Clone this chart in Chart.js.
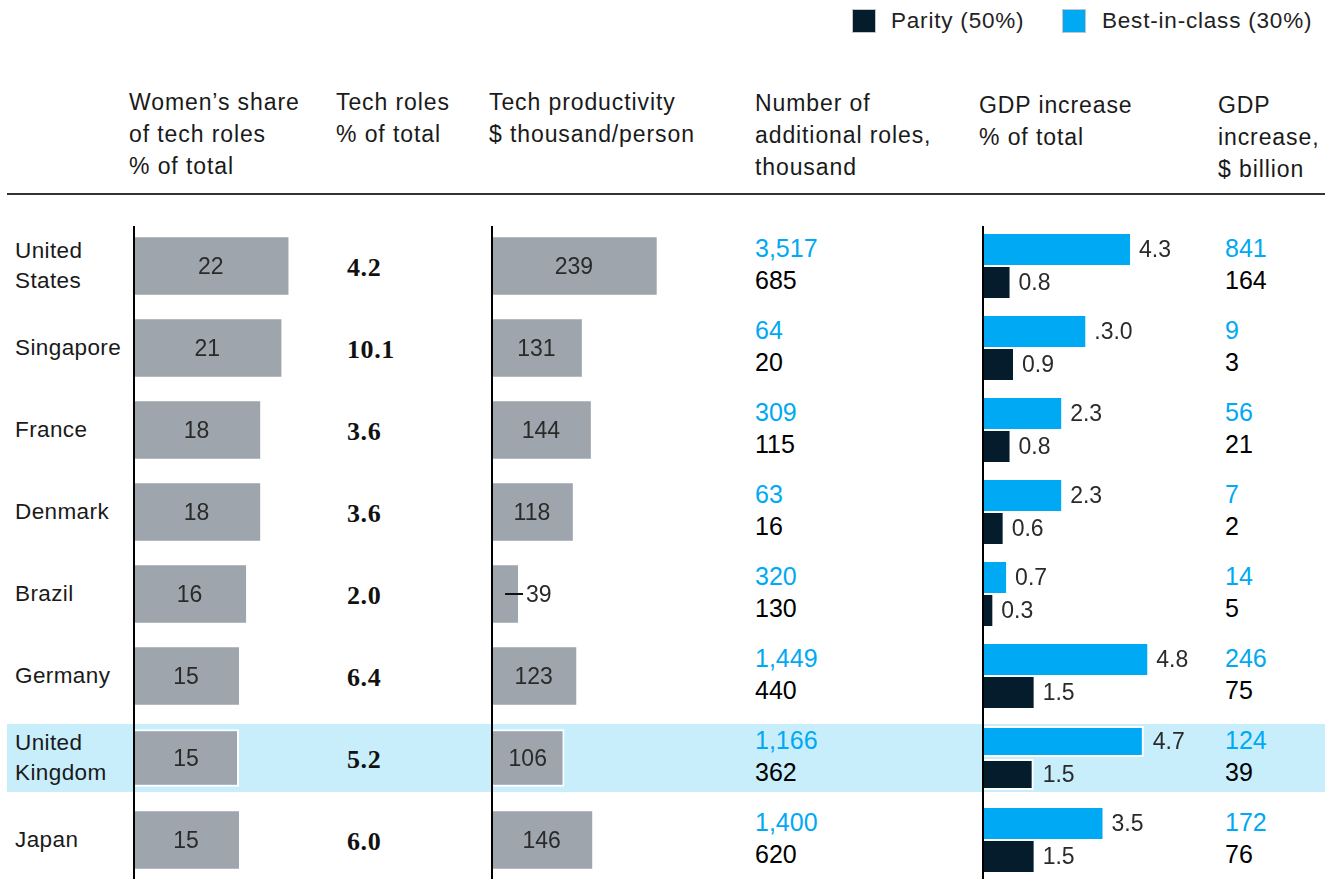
<!DOCTYPE html>
<html>
<head>
<meta charset="utf-8">
<script src="https://cdn.jsdelivr.net/npm/chart.js@4.4.1/dist/chart.umd.min.js"></script>
<style>
  html, body { margin: 0; padding: 0; background: #fff; }
  body { width: 1325px; height: 879px; overflow: hidden; position: relative;
         font-family: "Liberation Sans", Arial, sans-serif; color: #1a1a1a; }
  .abs { position: absolute; }
  .hdr { position: absolute; font-size: 23px; line-height: 32px; letter-spacing: 0.9px; white-space: nowrap; color: #1a1a1a; }
  .legend-box { position: absolute; width: 22px; height: 22px; border: 1px solid #c4c4c4; top: 9px; }
  .legend-txt { position: absolute; top: 6px; font-size: 22.5px; line-height: 30px; letter-spacing: 0.8px; color: #222; }
  .row { position: absolute; height: 82px; display: flex; align-items: center; white-space: nowrap; }
  .country { font-size: 22.5px; line-height: 30px; letter-spacing: 0.4px; }
  .roles { font-family: "Liberation Serif", serif; font-weight: bold; font-size: 26px; letter-spacing: 0.6px; color: #111; margin-top: 4px; }
  .pair { font-size: 25px; line-height: 32px; margin-top: -4px; }
  .pair .best { color: #00a9f4; }
  .pair .parity { color: #000; }
  canvas { position: absolute; }
</style>
</head>
<body>

<div class="legend-box" style="left:852px; background:#051c2c;"></div>
<div class="legend-txt" style="left:891px;">Parity (50%)</div>
<div class="legend-box" style="left:1062px; background:#00a9f4;"></div>
<div class="legend-txt" style="left:1102px;">Best-in-class (30%)</div>

<div class="hdr" style="left:129px; top:86px;">Women’s share<br>of tech roles<br>% of total</div>
<div class="hdr" style="left:336px; top:86px;">Tech roles<br>% of total</div>
<div class="hdr" style="left:489px; top:86px;">Tech productivity<br>$ thousand/person</div>
<div class="hdr" style="left:755px; top:87px;">Number of<br>additional roles,<br>thousand</div>
<div class="hdr" style="left:979px; top:89px;">GDP increase<br>% of total</div>
<div class="hdr" style="left:1218px; top:89px;">GDP<br>increase,<br>$ billion</div>

<div class="abs" style="left:7px; top:193px; width:1318px; height:2px; background:#333;"></div>

<div id="band" class="abs" style="left:7px; width:1318px; height:68px; background:#c8eefc;"></div>

<div id="rows"></div>

<canvas id="womenChart" width="212" height="656" style="left:133px; top:225px;"></canvas>
<canvas id="prodChart" width="208" height="656" style="left:491px; top:225px;"></canvas>
<canvas id="gdpChart" width="241" height="656" style="left:982px; top:225px;"></canvas>

<script>
const countries = [['United', 'States'], ['Singapore'], ['France'], ['Denmark'], ['Brazil'], ['Germany'], ['United', 'Kingdom'], ['Japan']];
const womenShare = [22, 21, 18, 18, 16, 15, 15, 15];
const techRoles = ['4.2', '10.1', '3.6', '3.6', '2.0', '6.4', '5.2', '6.0'];
const techProductivity = [239, 131, 144, 118, 39, 123, 106, 146];
const rolesBest = ['3,517', '64', '309', '63', '320', '1,449', '1,166', '1,400'];
const rolesParity = ['685', '20', '115', '16', '130', '440', '362', '620'];
const gdpPctBest = [4.3, 3.0, 2.3, 2.3, 0.7, 4.8, 4.7, 3.5];
const gdpPctBestLabels = ['4.3', '.3.0', '2.3', '2.3', '0.7', '4.8', '4.7', '3.5'];
const gdpPctParity = [0.8, 0.9, 0.8, 0.6, 0.3, 1.5, 1.5, 1.5];
const gdpBnBest = ['841', '9', '56', '7', '14', '246', '124', '172'];
const gdpBnParity = ['164', '3', '21', '2', '5', '75', '39', '76'];
const highlightRow = 6;

const GRAY = '#9ea5ac';
const NAVY = '#051c2c';
const BLUE = '#00a9f4';
const LABEL_FONT = '23px "Liberation Sans", Arial, sans-serif';

const rowTop = 225, rowH = 82;

// highlight band behind the UK row
document.getElementById('band').style.top = (rowTop + highlightRow * rowH + (rowH - 68) / 2) + 'px';

// text columns
const rowsEl = document.getElementById('rows');
function addCell(left, i, html, cls) {
  const d = document.createElement('div');
  d.className = 'row';
  d.style.left = left + 'px';
  d.style.top = (rowTop + i * rowH) + 'px';
  d.innerHTML = '<div class="' + cls + '">' + html + '</div>';
  rowsEl.appendChild(d);
}
countries.forEach((c, i) => {
  addCell(15, i, c.join('<br>'), 'country');
  addCell(347, i, techRoles[i], 'roles');
  addCell(755, i, '<span class="best">' + rolesBest[i] + '</span><br><span class="parity">' + rolesParity[i] + '</span>', 'pair');
  addCell(1225, i, '<span class="best">' + gdpBnBest[i] + '</span><br><span class="parity">' + gdpBnParity[i] + '</span>', 'pair');
});

// vertical baseline at zero
const zeroLine = {
  id: 'zeroLine',
  afterDatasetsDraw(chart) {
    const ctx = chart.ctx;
    const x = chart.scales.x.getPixelForValue(0) + 1;
    ctx.save();
    ctx.strokeStyle = '#000';
    ctx.lineWidth = 2;
    ctx.beginPath();
    ctx.moveTo(x, chart.chartArea.top + 1);
    ctx.lineTo(x, chart.chartArea.bottom);
    ctx.stroke();
    ctx.restore();
  }
};

// value labels centred in the bar, or outside with a leader if the bar is too short
const insideLabels = {
  id: 'insideLabels',
  afterDatasetsDraw(chart) {
    const ctx = chart.ctx;
    ctx.save();
    ctx.font = LABEL_FONT;
    ctx.fillStyle = '#2a2a2a';
    ctx.textBaseline = 'middle';
    chart.getDatasetMeta(0).data.forEach((bar, i) => {
      const txt = String(chart.data.datasets[0].data[i]);
      const w = ctx.measureText(txt).width;
      const left = bar.base, right = bar.x;
      if (right - left > w + 16) {
        ctx.textAlign = 'center';
        ctx.fillText(txt, (left + right) / 2, bar.y + 2);
      } else {
        ctx.strokeStyle = '#111';
        ctx.lineWidth = 2;
        ctx.beginPath();
        ctx.moveTo(right - 13, bar.y);
        ctx.lineTo(right + 5, bar.y);
        ctx.stroke();
        ctx.textAlign = 'left';
        ctx.fillText(txt, right + 8, bar.y + 2);
      }
    });
    ctx.restore();
  }
};

// labels after the end of each GDP bar
const endLabels = {
  id: 'endLabels',
  afterDatasetsDraw(chart) {
    const ctx = chart.ctx;
    ctx.save();
    ctx.font = LABEL_FONT;
    ctx.fillStyle = '#2a2a2a';
    ctx.textBaseline = 'middle';
    ctx.textAlign = 'left';
    chart.data.datasets.forEach((ds, di) => {
      chart.getDatasetMeta(di).data.forEach((bar, i) => {
        const txt = ds.labels ? ds.labels[i] : ds.data[i].toFixed(1);
        ctx.fillText(txt, bar.x + 9, bar.y + 1);
      });
    });
    ctx.restore();
  }
};

const ukBorder = ctx => ctx.dataIndex === highlightRow ? { top: 2, right: 2, bottom: 2, left: 0 } : 0;

function baseOptions(max) {
  return {
    responsive: false,
    maintainAspectRatio: false,
    animation: false,
    indexAxis: 'y',
    layout: { padding: 0 },
    plugins: { legend: { display: false }, tooltip: { enabled: false } },
    scales: {
      x: { display: false, min: 0, max: max },
      y: { display: false }
    }
  };
}

const labels = countries.map(c => c.join(' '));

new Chart(document.getElementById('womenChart').getContext('2d'), {
  type: 'bar',
  data: {
    labels: labels,
    datasets: [{
      data: womenShare,
      backgroundColor: GRAY,
      borderColor: '#fff',
      borderWidth: ukBorder,
      categoryPercentage: 1,
      barPercentage: 0.7
    }]
  },
  options: baseOptions(30),
  plugins: [insideLabels, zeroLine]
});

new Chart(document.getElementById('prodChart').getContext('2d'), {
  type: 'bar',
  data: {
    labels: labels,
    datasets: [{
      data: techProductivity,
      backgroundColor: GRAY,
      borderColor: '#fff',
      borderWidth: ukBorder,
      categoryPercentage: 1,
      barPercentage: 0.7
    }]
  },
  options: baseOptions(300),
  plugins: [insideLabels, zeroLine]
});

new Chart(document.getElementById('gdpChart').getContext('2d'), {
  type: 'bar',
  data: {
    labels: labels,
    datasets: [
      {
        label: 'Best-in-class (30%)',
        data: gdpPctBest,
        labels: gdpPctBestLabels,
        backgroundColor: BLUE,
        borderColor: '#fff',
        borderWidth: ukBorder,
        categoryPercentage: 0.805,
        barPercentage: 0.94
      },
      {
        label: 'Parity (50%)',
        data: gdpPctParity,
        backgroundColor: NAVY,
        borderColor: '#fff',
        borderWidth: ukBorder,
        categoryPercentage: 0.805,
        barPercentage: 0.94
      }
    ]
  },
  options: baseOptions(7),
  plugins: [endLabels, zeroLine]
});
</script>
</body>
</html>
